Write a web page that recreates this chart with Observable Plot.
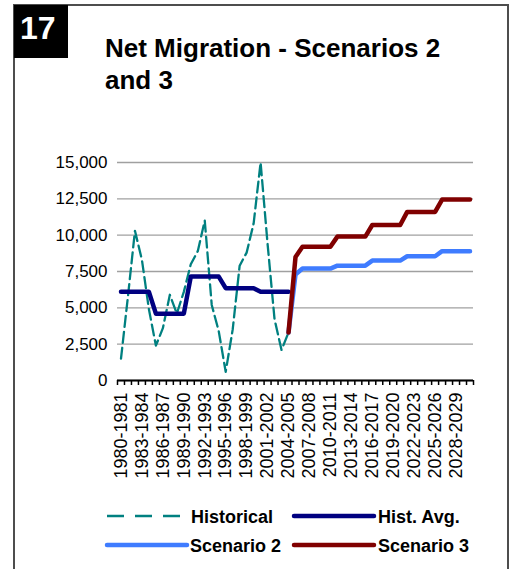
<!DOCTYPE html>
<html>
<head>
<meta charset="utf-8">
<script src="https://cdn.jsdelivr.net/npm/d3@7"></script>
<script src="https://cdn.jsdelivr.net/npm/@observablehq/plot@0.6"></script>
<style>
  html, body { margin: 0; padding: 0; background: #fff; }
  body { font-family: "Liberation Sans", Arial, sans-serif; }
  #wrap { position: relative; width: 510px; height: 569px; overflow: hidden; background: #fff; }
  #border { position: absolute; left: 13px; top: 4px; width: 496px; height: 570px; box-sizing: border-box;
            border-left: 2px solid #4d4d4d; border-top: 2px solid #4d4d4d; border-right: 2px solid #4d4d4d; }
  #badge { position: absolute; left: 14px; top: 5px; width: 54px; height: 53px; background: #000; color: #fff;
           font-weight: bold; font-size: 32px; line-height: 46px; box-sizing: border-box; padding-left: 6px; }
  #title { position: absolute; left: 105px; top: 32px; font-weight: bold; font-size: 26px; line-height: 32px; color: #000; }
  #chart { position: absolute; left: 0; top: 0; }
  #legend { position: absolute; left: 0; top: 495px; }
</style>
</head>
<body>
<div id="wrap">
  <div id="border"></div>
  <div id="badge">17</div>
  <div id="title">Net Migration - Scenarios 2<br>and 3</div>
  <div id="chart"></div>
  <svg id="legend" width="510" height="74"></svg>
</div>
<script>
// ---- data ----
const categories = [
  "1980-1981","1981-1982","1982-1983","1983-1984","1984-1985","1985-1986","1986-1987","1987-1988",
  "1988-1989","1989-1990","1990-1991","1991-1992","1992-1993","1993-1994","1994-1995","1995-1996",
  "1996-1997","1997-1998","1998-1999","1999-2000","2000-2001","2001-2002","2002-2003","2003-2004",
  "2004-2005","2005-2006","2006-2007","2007-2008","2008-2009","2009-2010","2010-2011","2011-2012",
  "2012-2013","2013-2014","2014-2015","2015-2016","2016-2017","2017-2018","2018-2019","2019-2020",
  "2020-2021","2021-2022","2022-2023","2023-2024","2024-2025","2025-2026","2026-2027","2027-2028",
  "2028-2029","2029-2030","2030-2031"
];
// Historical series, from 1980-1981 through 2004-2005
const historical = [1500, 5800, 10300, 8300, 4900, 2400, 3600, 5900, 4600, 6100,
                    8000, 8900, 11000, 5200, 3400, 600, 3500, 7900, 8800, 10800,
                    15000, 9400, 4200, 2100, 3300];
const histAvg = [6100, 6100, 6100, 6100, 6100, 4600, 4600, 4600, 4600, 4600,
                 7150, 7150, 7150, 7150, 7150, 6350, 6350, 6350, 6350, 6350,
                 6100, 6100, 6100, 6100, 6100];
// Scenarios, from 2004-2005 through 2030-2031
const scenarioStart = "2004-2005";
const scenario2 = [3300, 7300, 7700, 7700, 7700, 7700, 7700, 7900, 7900, 7900, 7900, 7900,
                   8250, 8250, 8250, 8250, 8250, 8550, 8550, 8550, 8550, 8550,
                   8900, 8900, 8900, 8900, 8900];
const scenario3 = [3300, 8500, 9200, 9200, 9200, 9200, 9200, 9900, 9900, 9900, 9900, 9900,
                   10700, 10700, 10700, 10700, 10700, 11600, 11600, 11600, 11600, 11600,
                   12450, 12450, 12450, 12450, 12450];
const yTicks = [0, 2500, 5000, 7500, 10000, 12500, 15000];
const labelEvery = 3;

const colors = {
  "Historical": "#008080",
  "Hist. Avg.": "#000080",
  "Scenario 2": "#3f7cff",
  "Scenario 3": "#800000"
};

// ---- tables ----
const off = categories.indexOf(scenarioStart);
const histRows = historical.map((v, i) => ({i, v}));
const avgRows = histAvg.map((v, i) => ({i, v}));
const s2Rows = scenario2.map((v, i) => ({i: i + off, v}));
const s3Rows = scenario3.map((v, i) => ({i: i + off, v}));
const n = categories.length;
const boundaries = d3.range(n + 1).map(k => k - 0.5);
const labelIdx = d3.range(0, n, labelEvery).filter(k => k < n - 1);

const chart = Plot.plot({
  width: 510,
  height: 490,
  marginLeft: 117,
  marginRight: 37,
  marginTop: 162,
  marginBottom: 110,
  style: {fontFamily: '"Liberation Sans", Arial, sans-serif', fontSize: "16px", color: "#000", background: "transparent"},
  x: {type: "linear", domain: [-0.5, n - 0.5]},
  y: {domain: [0, 15000]},
  marks: [
    Plot.gridY(yTicks, {stroke: "#a0a0a0", strokeOpacity: 1, strokeWidth: 1.3}),
    Plot.axisY(yTicks, {tickSize: 0, tickPadding: 10, tickFormat: d3.format(","), fontSize: 17, label: null}),
    Plot.axisX(boundaries, {tickSize: 5, tickFormat: () => "", stroke: "#000", strokeWidth: 1.5, label: null}),
    Plot.axisX(labelIdx, {tickSize: 0, tickPadding: 12, tickRotate: -90, tickFormat: k => categories[k], fontSize: 18, label: null}),
    Plot.ruleY([0], {stroke: "#000", strokeWidth: 2}),
    Plot.line(histRows, {x: "i", y: "v", stroke: colors["Historical"], strokeWidth: 2.3, strokeDasharray: "11,5"}),
    Plot.line(avgRows, {x: "i", y: "v", stroke: colors["Hist. Avg."], strokeWidth: 4.5, strokeLinejoin: "round", strokeLinecap: "round"}),
    Plot.line(s2Rows, {x: "i", y: "v", stroke: colors["Scenario 2"], strokeWidth: 4.5, strokeLinejoin: "round", strokeLinecap: "round"}),
    Plot.line(s3Rows, {x: "i", y: "v", stroke: colors["Scenario 3"], strokeWidth: 4.5, strokeLinejoin: "round", strokeLinecap: "round"})
  ]
});
document.getElementById("chart").appendChild(chart);

// ---- legend ----
const legendItems = [
  {name: "Historical", dash: "17,11", w: 2.3, x1: 107, x2: 180, tx: 191, cy: 21},
  {name: "Hist. Avg.", dash: null, w: 4.5, x1: 294, x2: 374, tx: 378, cy: 21},
  {name: "Scenario 2", dash: null, w: 4.5, x1: 107, x2: 187, tx: 190, cy: 50},
  {name: "Scenario 3", dash: null, w: 4.5, x1: 294, x2: 374, tx: 378, cy: 50}
];
const lg = d3.select("#legend");
for (const it of legendItems) {
  lg.append("line").attr("x1", it.x1).attr("x2", it.x2).attr("y1", it.cy).attr("y2", it.cy)
    .attr("stroke", colors[it.name]).attr("stroke-width", it.w)
    .attr("stroke-linecap", it.dash ? "butt" : "round")
    .attr("stroke-dasharray", it.dash);
  lg.append("text").attr("x", it.tx).attr("y", it.cy + 6.5)
    .attr("font-family", '"Liberation Sans", Arial, sans-serif').attr("font-weight", "bold")
    .attr("font-size", 18).attr("fill", "#000").text(it.name);
}
</script>
</body>
</html>
